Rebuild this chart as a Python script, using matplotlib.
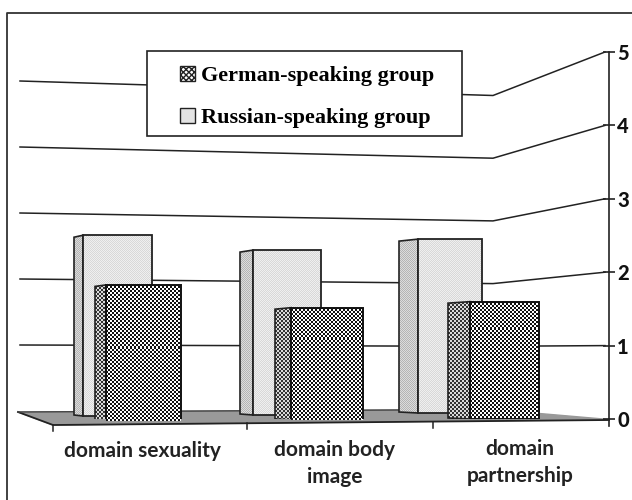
import numpy as np
import matplotlib
matplotlib.use("Agg")
import matplotlib.pyplot as plt
from matplotlib.colors import ListedColormap
from matplotlib.lines import Line2D
from matplotlib.patches import Patch, Rectangle

groups = ["domain sexuality", "domain body\nimage", "domain\npartnership"]
german = [1.89, 1.56, 1.63]
russian = [2.62, 2.39, 2.52]
y_ticks = [0, 1, 2, 3, 4, 5]

W, H = 632, 500
Y0, UNIT = 419, 73.4


def yv(py):
    # pixel row to value on the right hand axis
    return (Y0 - py) / UNIT


fig = plt.figure(figsize=(W / 100, H / 100), dpi=100)
ax = fig.add_axes([53 / W, 1 - Y0 / H, (609 - 53) / W, (Y0 - 52) / H])


def checker(x0, x1, y0, y1, cell, c1, c2, clip, z):
    # pattern is cut to whole pixels so it stays sharp
    y0, y1 = round(y0) + 2, round(y1) - 2
    nx = int(np.ceil((x1 - x0) / cell))
    ny = int(np.ceil((y0 - y1) / cell))
    ii, jj = np.indices((ny, nx))
    im = ax.imshow((ii + jj) % 2, extent=(x0, x0 + nx * cell, yv(y1 + ny * cell), yv(y1)),
                   cmap=ListedColormap([c1, c2]), interpolation="nearest", aspect="auto",
                   zorder=z, vmin=0, vmax=1)
    im.set_clip_path(clip)


# floor
ax.fill([18, 493, 609, 53], [yv(412), yv(409.5), yv(419.5), yv(425)], color="#999999", zorder=1, clip_on=False)
ax.plot([18, 53, 609], [yv(412), yv(425), yv(420)], color="#222222", lw=1.3, zorder=1.5, clip_on=False)
ax.plot([18, 493], [yv(412), yv(409.5)], color="#444444", lw=1, zorder=1.5, clip_on=False)

# back wall lines, value on left and back edge, then up to the axis
for v in y_ticks[1:]:
    left = yv(411 - 66 * v)
    back = yv(409 - 62.7 * v)
    ax.plot([20, 493, 605], [left, back, v], color="#222222", lw=1.1, zorder=2, clip_on=False)

# bars: front x range, side x start, base row, px per unit
russian_x = [(83, 152, 74), (253, 321, 240), (418, 482, 399)]
russian_base = [416, 415, 413]
german_x = [(106, 181, 95), (291, 363, 275), (470, 539, 448)]
german_base = [421, 420, 419]

for i in range(3):
    x0, x1, xs = russian_x[i]
    b = russian_base[i]
    top = b - russian[i] * 69
    side = ax.fill([xs, x0, x0, xs], [yv(b - 1), yv(b), yv(top), yv(top + 2)], facecolor="none", edgecolor="#222222", lw=1.2, zorder=3.1)[0]
    checker(xs, x0, b, top, 1, "#b4b4b4", "#dcdcdc", side, 3)
    front = ax.bar((x0 + x1) / 2, yv(top) - yv(b), width=x1 - x0, bottom=yv(b), facecolor="none", edgecolor="#222222", lw=1.3, zorder=3.3)[0]
    checker(x0, x1, b, top, 1, "#d8d8d8", "#efefef", front, 3.2)

for i in range(3):
    x0, x1, xs = german_x[i]
    b = german_base[i]
    top = b - german[i] * 72
    side = ax.fill([xs, x0, x0, xs], [yv(b - 1), yv(b), yv(top), yv(top + 1.5)], facecolor="none", edgecolor="#222222", lw=1.2, zorder=4.2)[0]
    checker(xs, x0, b, top, 2, "#333333", "#dadada", side, 4)
    front = ax.bar((x0 + x1) / 2, yv(top) - yv(b), width=x1 - x0, bottom=yv(b), facecolor="none", edgecolor="#111111", lw=1.4, zorder=4.4)[0]
    checker(x0, x1, b, top, 2, "#111111", "#ffffff", front, 4.3)

# axes
ax.set_xlim(53, 609)
ax.set_ylim(0, 5)
for s in ["top", "left", "bottom"]:
    ax.spines[s].set_visible(False)
ax.spines["right"].set_linewidth(1.2)
ax.spines["right"].set_color("#222222")
ax.yaxis.tick_right()
ax.set_yticks(y_ticks)
ax.tick_params(axis="y", direction="inout", length=8, width=1.2, color="#222222", pad=2)
for lab in ax.get_yticklabels():
    lab.set_fontfamily("Lato")
    lab.set_fontweight("black")
    lab.set_fontsize(14.5)
    lab.set_color("#111111")
ax.set_xticks([])
ax.plot([609, 609], [0, yv(426)], color="#222222", lw=1.2, clip_on=False, zorder=5)
for x, y in [(53, 425), (247, 423), (433, 421.5)]:
    ax.plot([x, x], [yv(y), yv(y + 6)], color="#222222", lw=1.1, clip_on=False, zorder=5)

for x, y, g in zip([142, 335, 520], [451, 463.5, 462.5], groups):
    ax.text(x, yv(y), g, ha="center", va="center", family="Lato", fontweight="bold", fontsize=15,
            color="#222222", linespacing=1.38, clip_on=False)

# legend, box drawn apart so the padding can differ per side
fig.add_artist(Rectangle((147 / W, 1 - 136 / H), 315 / W, 85 / H, transform=fig.transFigure,
                         facecolor="white", edgecolor="#222222", lw=1.2, zorder=9))
handles = [Patch(facecolor="white", edgecolor="#222222", hatch="xxxxxx", label="German-speaking group"),
           Patch(facecolor="#e3e3e3", edgecolor="#222222", label="Russian-speaking group")]
leg = fig.legend(handles=handles, loc="upper left", bbox_to_anchor=(180 / W, 1 - 66 / H), bbox_transform=fig.transFigure,
                 frameon=False, borderaxespad=0, borderpad=0,
                 prop={"family": "Liberation Serif", "weight": "bold", "size": 16},
                 handlelength=0.68, handleheight=0.68, handletextpad=0.25, labelspacing=0.95)
leg.set_zorder(10)

# outer frame, only top and left
fig.add_artist(Line2D([7 / W, 7 / W, 1], [0, 1 - 13 / H, 1 - 13 / H], color="#333333", lw=1.3))

fig.savefig("out.png", dpi=100)
